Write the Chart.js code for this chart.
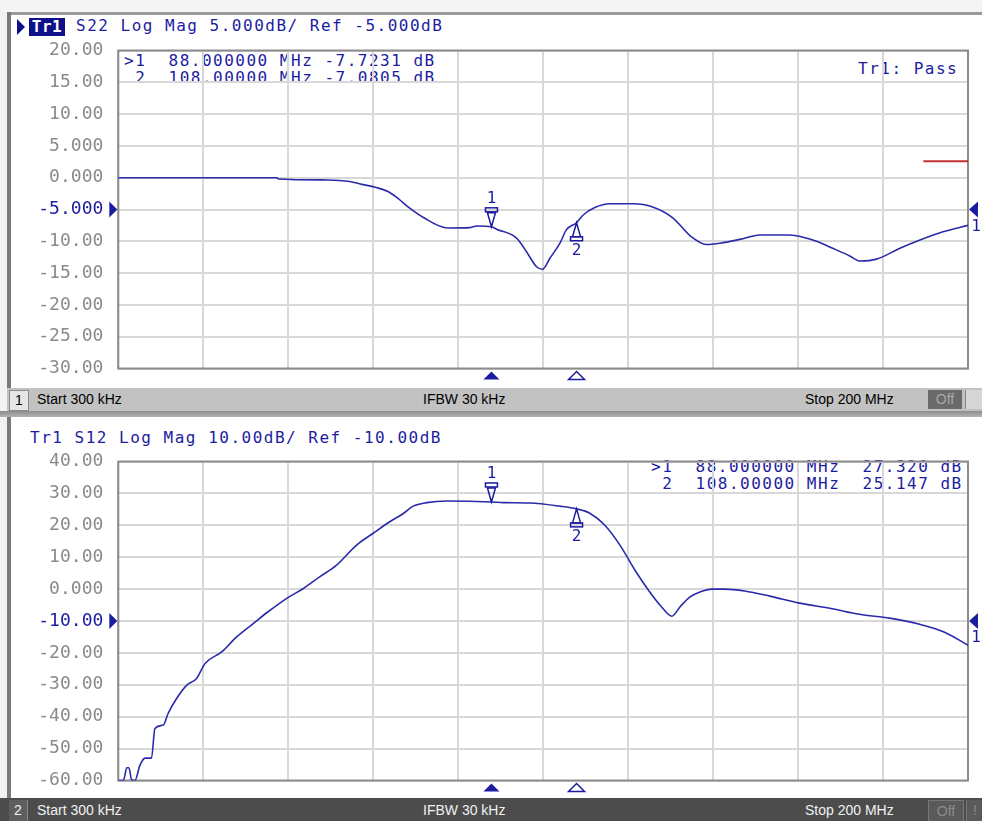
<!DOCTYPE html>
<html>
<head>
<meta charset="utf-8">
<script src="https://cdn.jsdelivr.net/npm/chart.js@4/dist/chart.umd.min.js"></script>
<style>
  html, body { margin: 0; padding: 0; }
  body { width: 982px; height: 821px; overflow: hidden; background: #f2f2f2; position: relative; font-family: "DejaVu Sans Mono", monospace; }
  .abs { position: absolute; }
  .panel { background: #ffffff; }
  .mono { font-family: "DejaVu Sans Mono", monospace; font-size: 16px; letter-spacing: 1.5px; color: #1c1ca0; white-space: pre; line-height: 17px; }
  .status { font-family: "Liberation Sans", Arial, sans-serif; font-size: 14px; white-space: pre; }
</style>
</head>
<body>
<!-- frame -->
<div class="abs" style="left:0;top:0;width:982px;height:12px;background:#f4f4f4"></div>
<div class="abs" style="left:7px;top:12px;width:975px;height:3px;background:#9a9a9a"></div>
<div class="abs" style="left:7px;top:12px;width:4px;height:378px;background:#7a7a7a"></div>
<div class="abs panel" style="left:11px;top:15px;width:971px;height:373px"></div>

<!-- status bar 1 -->
<div class="abs" style="left:7px;top:388px;width:975px;height:23px;background:#c2c2c2"></div>
<div class="abs status" style="left:9px;top:390px;width:18px;height:19px;background:#e6e6e6;border:1px solid #8a8a8a;color:#000;line-height:19px;text-align:center">1</div>
<div class="abs status" style="left:37px;top:388px;line-height:23px;color:#000">Start 300 kHz</div>
<div class="abs status" style="left:423px;top:388px;line-height:23px;color:#000">IFBW 30 kHz</div>
<div class="abs status" style="left:805px;top:388px;line-height:23px;color:#000">Stop 200 MHz</div>
<div class="abs status" style="left:928px;top:390px;width:34px;height:19px;background:#6a6a6a;color:#a8a8a8;line-height:19px;text-align:center">Off</div>
<div class="abs" style="left:965px;top:390px;width:17px;height:19px;background:#d6d6d6;border-left:1px solid #888"></div>

<!-- separator -->
<div class="abs" style="left:0;top:411px;width:982px;height:6px;background:linear-gradient(#8c8c8c,#b4b4b4)"></div>
<div class="abs" style="left:7px;top:417px;width:4px;height:381px;background:#7a7a7a"></div>
<div class="abs panel" style="left:11px;top:417px;width:971px;height:381px"></div>

<!-- status bar 2 -->
<div class="abs" style="left:0;top:798px;width:982px;height:23px;background:#4c4c4c"></div>
<div class="abs status" style="left:9px;top:800px;width:18px;height:21px;background:#5e5e5e;border-right:1px solid #8a8a8a;color:#f0f0f0;line-height:21px;text-align:center">2</div>
<div class="abs status" style="left:37px;top:799px;line-height:23px;color:#f0f0f0">Start 300 kHz</div>
<div class="abs status" style="left:423px;top:799px;line-height:23px;color:#f0f0f0">IFBW 30 kHz</div>
<div class="abs status" style="left:805px;top:799px;line-height:23px;color:#f0f0f0">Stop 200 MHz</div>
<div class="abs status" style="left:928px;top:800px;width:34px;height:21px;background:#5a5a5a;border:1px solid #777;color:#8a8a8a;line-height:21px;text-align:center">Off</div>
<div class="abs status" style="left:966px;top:800px;width:16px;height:21px;background:#5a5a5a;border-left:1px solid #777;color:#8a8a8a;line-height:21px;text-align:center">!</div>

<!-- top title -->
<div class="abs" style="left:17px;top:19px;width:0;height:0;border-top:8px solid transparent;border-bottom:8px solid transparent;border-left:8px solid #10108a"></div>
<div class="abs mono" style="left:29px;top:18px;width:36px;height:18px;background:#10108a;color:#ffffff;font-weight:bold;letter-spacing:0.5px;text-align:center;line-height:18px">Tr1</div>
<div class="abs mono" style="left:76px;top:17px">S22 Log Mag 5.000dB/ Ref -5.000dB</div>

<!-- top readouts -->
<div class="abs mono" style="left:124px;top:52px">&gt;1  88.000000 MHz -7.7231 dB
 2  108.00000 MHz -7.0805 dB</div>
<div class="abs mono" style="left:858px;top:60px">Tr1: Pass</div>

<!-- bottom title -->
<div class="abs mono" style="left:30px;top:429px">Tr1 S12 Log Mag 10.00dB/ Ref -10.00dB</div>
<div class="abs mono" style="left:651px;top:458px">&gt;1  88.000000 MHz  27.320 dB
 2  108.00000 MHz  25.147 dB</div>

<canvas id="c1" class="abs" style="left:0;top:30px" width="982" height="360"></canvas>
<canvas id="c2" class="abs" style="left:0;top:440px" width="982" height="357"></canvas>

<script>
// ---- data (frequencies in MHz, magnitudes in dB) ----
const startMHz = 0.3;
const stopMHz = 200;
const divisions = 10;

const freqS22 = [0.3, 20.2, 37.6, 37.9, 49.6, 54.7, 57.6, 60.7, 63.8, 66.1, 68.4, 72.1, 77.7, 83.0, 84.5, 88.0, 89.2, 93.9, 96.2, 98.6, 100.0, 101.7, 104.1, 105.6, 108.0, 109.5, 112.3, 115.8, 121.2, 125.9, 130.6, 135.0, 138.5, 141.7, 146.4, 151.1, 158.1, 161.2, 164.4, 168.2, 172.2, 174.6, 178.5, 184.0, 188.7, 194.1, 200.0];
const magS22  = [0, 0, 0, -0.2, -0.35, -0.6, -1.05, -1.5, -2.2, -3.3, -4.6, -6.3, -7.9, -7.85, -7.6, -7.7231, -8.1, -9.5, -11.6, -14.0, -14.4, -12.7, -10.3, -8.2, -7.0805, -5.9, -4.7, -4.1, -4.1, -4.6, -6.3, -9.3, -10.5, -10.3, -9.7, -9.0, -9.0, -9.35, -10.0, -11.1, -12.3, -13.1, -12.8, -11.1, -9.8, -8.5, -7.5];

const freqS12 = [0.3, 1.5, 2.3, 2.8, 3.4, 4.2, 5.4, 6.6, 8.1, 8.9, 10.9, 12.0, 14.0, 16.4, 18.7, 20.7, 24.6, 28.1, 32.0, 35.5, 39.9, 43.8, 47.7, 51.6, 56.3, 60.2, 64.1, 67.3, 69.6, 72.8, 77.5, 88.0, 90.8, 97.0, 104.1, 108.0, 111.1, 114.6, 118.2, 121.7, 125.2, 128.0, 130.4, 132.3, 134.6, 137.0, 139.8, 142.9, 147.5, 153.4, 160.4, 167.5, 174.5, 181.6, 188.6, 194.5, 200.0];
const magS12  = [-60, -60, -56, -56, -59.7, -60, -55.2, -53, -53, -43.7, -42.6, -39, -34.3, -30.1, -28, -23.3, -19.7, -15, -10.8, -7.1, -2.9, 0.2, 3.9, 7.5, 13.8, 17.5, 21.1, 23.7, 26, 27.1, 27.6, 27.32, 27.1, 27.0, 26.0, 25.147, 23.8, 20.1, 13.8, 6.0, -0.9, -5.6, -8.5, -5.6, -2.5, -0.9, 0, 0, -0.6, -2.2, -4.4, -6.0, -7.9, -9.1, -11.0, -13.5, -17.6];

const markerFreqs = [88, 108];
const markerS22 = [-7.7231, -7.0805];
const markerS12 = [27.320, 25.147];

const limitFreq = [189.5, 200];
const limitS22 = [2.6, 2.6];

const yValsS22 = [20, 15, 10, 5, 0, -5, -10, -15, -20, -25, -30];
const yLabelsS22 = ["20.00", "15.00", "10.00", "5.000", "0.000", "-5.000", "-10.00", "-15.00", "-20.00", "-25.00", "-30.00"];
const refS22 = -5;

const yValsS12 = [40, 30, 20, 10, 0, -10, -20, -30, -40, -50, -60];
const yLabelsS12 = ["40.00", "30.00", "20.00", "10.00", "0.000", "-10.00", "-20.00", "-30.00", "-40.00", "-50.00", "-60.00"];
const refS12 = -10;

// ---- helpers ----
const NAVY = '#1c1ca0';
const TRACE = '#2a2aaa';

function pts(xs, ys) { return xs.map((x, i) => ({ x: x, y: ys[i] })); }

const vnaPlugin = {
  id: 'vna',
  beforeDatasetsDraw(chart) {
    const a = chart.chartArea, ctx = chart.ctx;
    ctx.save();
    ctx.strokeStyle = '#8c8c8c';
    ctx.lineWidth = 2;
    ctx.strokeRect(a.left, a.top, a.right - a.left, a.bottom - a.top);
    ctx.restore();
  },
  afterDatasetsDraw(chart, args, opts) {
    const ctx = chart.ctx, xs = chart.scales.x, ys = chart.scales.y, a = chart.chartArea;
    ctx.save();
    ctx.strokeStyle = NAVY; ctx.fillStyle = NAVY; ctx.lineWidth = 1.5;
    ctx.font = '16px "DejaVu Sans Mono", monospace';
    ctx.textAlign = 'center'; ctx.textBaseline = 'middle';
    opts.freqs.forEach((f, i) => {
      const px = xs.getPixelForValue(f), py = ys.getPixelForValue(opts.vals[i]);
      if (i === 0) {
        ctx.beginPath();
        ctx.moveTo(px, py); ctx.lineTo(px - 4, py - 14); ctx.lineTo(px + 4, py - 14); ctx.closePath(); ctx.stroke();
        ctx.strokeRect(px - 6, py - 19, 12, 4);
        ctx.fillText(String(i + 1), px, py - 28);
      } else {
        ctx.beginPath();
        ctx.moveTo(px, py); ctx.lineTo(px - 4, py + 14); ctx.lineTo(px + 4, py + 14); ctx.closePath(); ctx.stroke();
        ctx.strokeRect(px - 6, py + 14, 12, 4);
        ctx.fillText(String(i + 1), px, py + 28);
      }
      ctx.beginPath();
      ctx.moveTo(px, a.bottom + 3); ctx.lineTo(px - 8, a.bottom + 11); ctx.lineTo(px + 8, a.bottom + 11); ctx.closePath();
      if (i === 0) ctx.fill(); else ctx.stroke();
    });
    const ry = ys.getPixelForValue(opts.ref);
    ctx.beginPath();
    ctx.moveTo(a.left - 1, ry); ctx.lineTo(a.left - 9, ry - 8); ctx.lineTo(a.left - 9, ry + 8); ctx.closePath(); ctx.fill();
    ctx.beginPath();
    ctx.moveTo(a.right + 1, ry); ctx.lineTo(a.right + 10, ry - 8); ctx.lineTo(a.right + 10, ry + 8); ctx.closePath(); ctx.fill();
    ctx.fillText('1', a.right + 8, ry + 17);
    ctx.restore();
  }
};

function gridTicks(scale) {
  const t = [];
  for (let i = 0; i <= divisions; i++) t.push({ value: startMHz + (stopMHz - startMHz) * i / divisions });
  scale.ticks = t;
}

function makeChart(id, datasets, yMin, yMax, yStep, yVals, yLabels, ref, padTop, padBottom, mFreqs, mVals) {
  return new Chart(document.getElementById(id), {
    type: 'line',
    data: { datasets: datasets },
    options: {
      responsive: false, maintainAspectRatio: false, animation: false, devicePixelRatio: 1,
      layout: { padding: { left: 0, right: 14, top: padTop, bottom: padBottom } },
      plugins: { legend: { display: false }, tooltip: { enabled: false }, vna: { freqs: mFreqs, vals: mVals, ref: ref } },
      scales: {
        x: {
          type: 'linear', min: startMHz, max: stopMHz,
          afterBuildTicks: gridTicks,
          ticks: { display: false },
          grid: { color: '#d8d8d8', lineWidth: 2, drawTicks: false },
          border: { display: false },
          afterFit: s => { s.height = 0; s.paddingLeft = 0; s.paddingRight = 0; }
        },
        y: {
          min: yMin, max: yMax,
          ticks: {
            stepSize: yStep, padding: 15,
            font: { family: '"DejaVu Sans Mono", monospace', size: 18 },
            color: c => (c.tick && c.tick.value === ref) ? NAVY : '#8a8a8a',
            callback: v => { const k = yVals.indexOf(v); return k >= 0 ? yLabels[k] : ''; }
          },
          grid: { color: '#d8d8d8', lineWidth: 2, drawTicks: false },
          border: { display: false },
          afterFit: s => { s.width = 118.3; s.paddingTop = 0; s.paddingBottom = 0; }
        }
      }
    },
    plugins: [vnaPlugin]
  });
}

// top canvas at y=30 (360 tall): plot 50.5 .. 368.5
makeChart('c1', [
  { data: pts(freqS22, magS22), borderColor: TRACE, borderWidth: 1.6, pointRadius: 0, cubicInterpolationMode: 'monotone', fill: false },
  { data: pts(limitFreq, limitS22), borderColor: '#c03030', borderWidth: 2, pointRadius: 0, fill: false }
], -30, 20, 5, yValsS22, yLabelsS22, refS22, 20.5, 21.5, markerFreqs, markerS22);

// bottom canvas at y=440 (357 tall): plot 461.5 .. 780.5
makeChart('c2', [
  { data: pts(freqS12, magS12), borderColor: TRACE, borderWidth: 1.6, pointRadius: 0, cubicInterpolationMode: 'monotone', fill: false }
], -60, 40, 10, yValsS12, yLabelsS12, refS12, 21.5, 16.5, markerFreqs, markerS12);
</script>
</body>
</html>
